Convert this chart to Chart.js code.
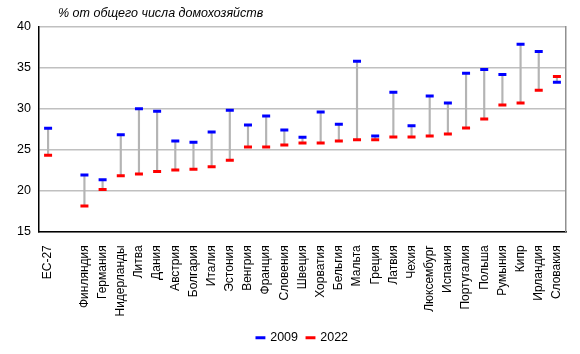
<!DOCTYPE html>
<html>
<head>
<meta charset="utf-8">
<script src="https://cdn.jsdelivr.net/npm/chart.js@4/dist/chart.umd.min.js"></script>
<style>
  html, body { margin: 0; padding: 0; background: #fff; }
  #wrap { width: 580px; height: 354px; }
</style>
</head>
<body>
<div id="wrap"><canvas id="chart"></canvas></div>
<script>
var countries = ['ЕС-27', '', 'Финляндия', 'Германия', 'Нидерланды', 'Литва', 'Дания', 'Австрия',
    'Болгария', 'Италия', 'Эстония', 'Венгрия', 'Франция', 'Словения', 'Швеция', 'Хорватия',
    'Бельгия', 'Мальта', 'Греция', 'Латвия', 'Чехия', 'Люксембург', 'Испания', 'Португалия',
    'Польша', 'Румыния', 'Кипр', 'Ирландия', 'Словакия'];
var values2009 = [27.6, null, 21.9, 21.3, 26.8, 30.0, 29.7, 26.05, 25.9, 27.15, 29.8, 28.0, 29.1, 27.4,
    26.5, 29.6, 28.1, 35.8, 26.65, 32.0, 27.9, 31.55, 30.7, 34.35, 34.8, 34.2, 37.9, 37.0, 33.25];
var values2022 = [24.3, null, 18.1, 20.1, 21.8, 22.0, 22.3, 22.5, 22.6, 22.9, 23.7, 25.3, 25.3, 25.55,
    25.8, 25.8, 26.05, 26.2, 26.2, 26.55, 26.55, 26.65, 26.9, 27.65, 28.75, 30.45, 30.7, 32.25, 33.95];
var yTicks = [15, 20, 25, 30, 35, 40];
var axisTitle = '% от общего числа домохозяйств';

var ranges = values2009.map(function (v, i) {
    if (v === null) return null;
    return [Math.min(v, values2022[i]), Math.max(v, values2022[i])];
});

// подпись оси сверху слева
var titlePlugin = {
    id: 'axisTitle',
    afterDraw: function (chart) {
        var c = chart.ctx;
        c.save();
        c.font = 'italic 12.5px "Liberation Sans", Arial, sans-serif';
        c.fillStyle = '#000';
        c.textBaseline = 'middle';
        c.fillText(axisTitle, 58, 14);
        c.restore();
    }
};

var ctx = document.getElementById('chart').getContext('2d');
var myChart = new Chart(ctx, {
    data: {
        labels: countries,
        datasets: [{
            type: 'line',
            label: '2009',
            data: values2009,
            showLine: false,
            borderColor: '#0000ff',
            backgroundColor: '#0000ff',
            borderWidth: 3,
            pointStyle: 'line',
            pointRadius: 4,
            pointHoverRadius: 4,
            pointBorderWidth: 3,
            order: 1
        }, {
            type: 'line',
            label: '2022',
            data: values2022,
            showLine: false,
            borderColor: '#ff0000',
            backgroundColor: '#ff0000',
            borderWidth: 3,
            pointStyle: 'line',
            pointRadius: 4,
            pointHoverRadius: 4,
            pointBorderWidth: 3,
            order: 1
        }, {
            type: 'bar',
            label: 'range',
            data: ranges,
            backgroundColor: '#b4b4b4',
            borderWidth: 0,
            barThickness: 1.5,
            grouped: false,
            order: 2
        }]
    },
    options: {
        responsive: true,
        maintainAspectRatio: false,
        animation: false,
        layout: {
            padding: { top: 27, right: 14, left: 0, bottom: 0 }
        },
        scales: {
            x: {
                grid: { display: false },
                border: { color: '#000', width: 1.5 },
                ticks: {
                    color: '#000',
                    autoSkip: false,
                    maxRotation: 90,
                    minRotation: 90,
                    padding: 6,
                    font: { family: '"Liberation Sans", Arial, sans-serif', size: 12 }
                }
            },
            y: {
                min: 15,
                max: 40,
                afterFit: function (s) { s.width = 39; },
                afterBuildTicks: function (s) {
                    s.ticks = yTicks.map(function (v) { return { value: v }; });
                },
                grid: { color: '#c0c0c0', lineWidth: 1.5, drawTicks: false },
                border: { color: '#000', width: 1.5 },
                ticks: {
                    color: '#000',
                    padding: 8,
                    font: { family: '"Liberation Sans", Arial, sans-serif', size: 12.5 }
                }
            },
            y2: {
                position: 'right',
                min: 15,
                max: 40,
                afterFit: function (s) { s.width = 0; },
                grid: { display: false },
                border: { color: '#909090', width: 1.5 },
                ticks: { display: false }
            }
        },
        plugins: {
            legend: {
                position: 'bottom',
                fullSize: false,
                labels: {
                    color: '#000',
                    usePointStyle: true,
                    boxWidth: 7,
                    boxHeight: 7,
                    padding: 9,
                    font: { family: '"Liberation Sans", Arial, sans-serif', size: 12.5 },
                    filter: function (item) { return item.text !== 'range'; }
                }
            },
            tooltip: { enabled: false }
        }
    },
    plugins: [titlePlugin]
});
</script>
</body>
</html>
